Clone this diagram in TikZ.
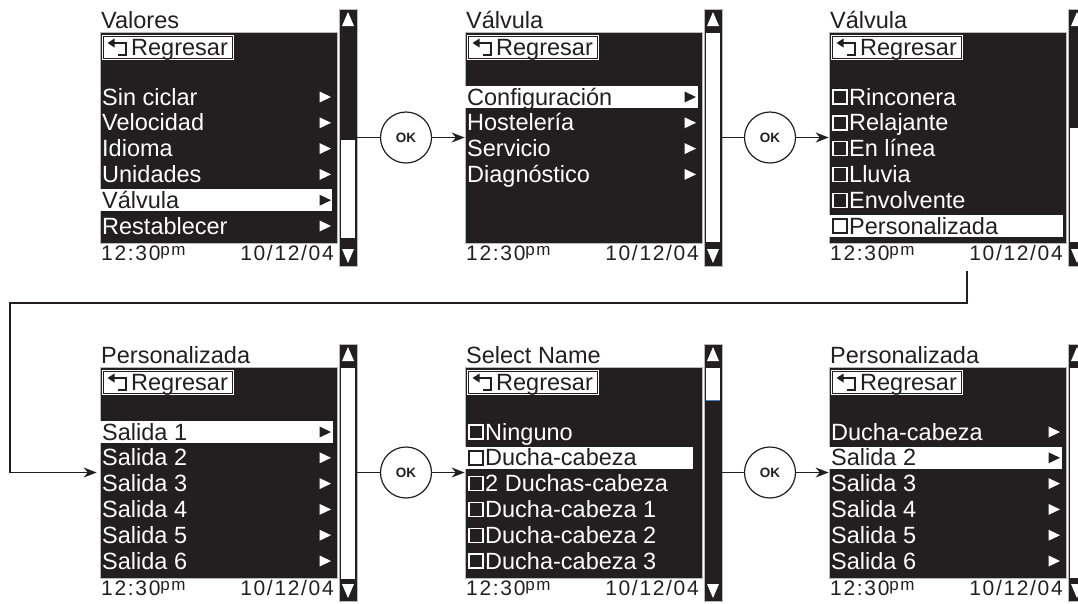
\documentclass[tikz,border=0pt]{standalone}
\usepackage{fontspec}
\setmainfont{Liberation Sans}
\newfontfamily\footfont[LetterSpace=8]{Liberation Sans}
\usetikzlibrary{arrows.meta}
\definecolor{lcd}{HTML}{231F20}
\definecolor{thumbblue}{HTML}{4A7FC0}
\tikzset{
 txt/.style={anchor=base west, inner sep=0pt, font=\fontsize{23.5}{28}\selectfont},
 wtxt/.style={txt, text=white},
 btxt/.style={txt, text=lcd},
 foot/.style={anchor=base west, inner sep=0pt, text=lcd, font=\footfont\fontsize{21}{25}\selectfont},
 panel/.style={rectangle, fill=lcd, draw=gray!55, line width=0.7pt, minimum width=237pt, minimum height=211pt, inner sep=0pt},
 scrollbar/.style={rectangle, fill=lcd, draw=gray!55, line width=0.6pt, minimum width=18pt, minimum height=257pt, inner sep=0pt},
 backbox/.style={rectangle, fill=white, minimum width=132pt, minimum height=25pt, inner sep=0pt},
 okc/.style={circle, draw=lcd, line width=1.2pt, minimum size=51pt, inner sep=0pt, fill=white, font=\bfseries\fontsize{13.5}{13.5}\selectfont, text=lcd},
 conn/.style={draw=lcd, line width=1.6pt},
 arr/.style={conn, -{Stealth[length=13pt,width=10pt]}},
}
% #1 id, #2 X, #3 Y, #4 title, #5 thumb top, #6 thumb bottom
\newcommand\lcdscreen[6]{%
 \node[panel] (p#1) at (#2+118.5,#3+105.5) {};
 \node[btxt] (t#1) at (#2+1,#3-4) {#4};
 \node[backbox] (b#1) at (#2+68,#3+15.5) {};
 \draw[lcd, line width=0.7pt] ([shift={(1.5pt,-1.5pt)}]b#1.north west) rectangle ([shift={(-1.5pt,1.5pt)}]b#1.south east);
 \fill[lcd] (#2+7.5,#3+11) -- (#2+14.5,#3+6.5) -- (#2+14.5,#3+15.5) -- cycle;
 \draw[lcd, line width=1.3pt] (#2+13,#3+11) -- (#2+26,#3+11) -- (#2+26,#3+23) -- (#2+18,#3+23);
 \node[btxt] (r#1) at (#2+31,#3+23) {Regresar};
 \node[foot] (fa#1) at (#2+1,#3+228) {12:30\raisebox{5pt}{\fontsize{17}{17}\selectfont pm}};
 \node[foot, anchor=base east] (fb#1) at (#2+234,#3+228) {10/12/04};
 \node[scrollbar] (sb#1) at (#2+248,#3+105.5) {};
 \fill[white] (#2+241,#3+#5) rectangle (#2+255,#3+#6);
 \fill[white] (#2+248,#3-20) -- (#2+242,#3-6) -- (#2+254,#3-6) -- cycle;
 \fill[white] (#2+248,#3+231) -- (#2+242,#3+217) -- (#2+254,#3+217) -- cycle;
}
% menu item with arrow: #1 name, #2 X, #3 Y, #4 row, #5 text
\newcommand\mitem[5]{%
 \node[wtxt] (#1) at (#2+2,#3+73+25.8*#4) {#5};
 \fill[white] (#2+231,#3+65+25.8*#4) -- ++(-11.5,-5.5) -- ++(0,11) -- cycle;
}
% highlighted item with arrow: #6 bar width
\newcommand\hitem[6]{%
 \fill[white] (#2,#3+54+25.8*#4) rectangle (#2+#6,#3+76+25.8*#4);
 \node[btxt] (#1) at (#2+2,#3+73+25.8*#4) {#5};
 \fill[lcd] (#2+231,#3+65+25.8*#4) -- ++(-11.5,-5.5) -- ++(0,11) -- cycle;
}
% checkbox item
\newcommand\citem[5]{%
 \draw[white, line width=1.4pt] (#2+4,#3+58+25.8*#4) rectangle ++(14,14);
 \node[wtxt] (#1) at (#2+20,#3+73+25.8*#4) {#5};
}
\newcommand\chitem[6]{%
 \fill[white] (#2,#3+54+25.8*#4) rectangle (#2+#6,#3+76+25.8*#4);
 \draw[lcd, line width=1.4pt] (#2+4,#3+58+25.8*#4) rectangle ++(14,14);
 \node[btxt] (#1) at (#2+20,#3+73+25.8*#4) {#5};
}
\begin{document}
\begin{tikzpicture}[x=1pt,y=-1pt]
\useasboundingbox (0,0) rectangle (1078,603);
\clip (0,0) rectangle (1078,603);
% ---- screen 1
\lcdscreen{1}{100}{32}{Valores}{108}{206}
\mitem{a1}{100}{32}{0}{Sin ciclar}
\mitem{a2}{100}{32}{1}{Velocidad}
\mitem{a3}{100}{32}{2}{Idioma}
\mitem{a4}{100}{32}{3}{Unidades}
\hitem{a5}{100}{32}{4}{Válvula}{232}
\mitem{a6}{100}{32}{5}{Restablecer}
% ---- screen 2
\lcdscreen{2}{465}{32}{Válvula}{1}{210}
\hitem{b1}{465}{32}{0}{Configuración}{233}
\mitem{b2}{465}{32}{1}{Hostelería}
\mitem{b3}{465}{32}{2}{Servicio}
\mitem{b4}{465}{32}{3}{Diagnóstico}
% ---- screen 3
\lcdscreen{3}{829}{32}{Válvula}{96}{210}
\citem{c1}{829}{32}{0}{Rinconera}
\citem{c2}{829}{32}{1}{Relajante}
\citem{c3}{829}{32}{2}{En línea}
\citem{c4}{829}{32}{3}{Lluvia}
\citem{c5}{829}{32}{4}{Envolvente}
\chitem{c6}{829}{32}{5}{Personalizada}{234}
% ---- screen 4
\lcdscreen{4}{100}{367}{Personalizada}{1}{212}
\hitem{d1}{100}{367}{0}{Salida 1}{233}
\mitem{d2}{100}{367}{1}{Salida 2}
\mitem{d3}{100}{367}{2}{Salida 3}
\mitem{d4}{100}{367}{3}{Salida 4}
\mitem{d5}{100}{367}{4}{Salida 5}
\mitem{d6}{100}{367}{5}{Salida 6}
% ---- screen 5
\lcdscreen{5}{465}{367}{Select Name}{1}{33}
\draw[thumbblue, line width=1pt] (706,400) -- (720,400);
\citem{e1}{465}{367}{0}{Ninguno}
\chitem{e2}{465}{367}{1}{Ducha-cabeza}{228}
\citem{e3}{465}{367}{2}{2 Duchas-cabeza}
\citem{e4}{465}{367}{3}{Ducha-cabeza 1}
\citem{e5}{465}{367}{4}{Ducha-cabeza 2}
\citem{e6}{465}{367}{5}{Ducha-cabeza 3}
% ---- screen 6
\lcdscreen{6}{829}{367}{Personalizada}{1}{211}
\mitem{f1}{829}{367}{0}{Ducha-cabeza}
\hitem{f2}{829}{367}{1}{Salida 2}{233}
\mitem{f3}{829}{367}{2}{Salida 3}
\mitem{f4}{829}{367}{3}{Salida 4}
\mitem{f5}{829}{367}{4}{Salida 5}
\mitem{f6}{829}{367}{5}{Salida 6}
% ---- OK buttons and connectors
\node[okc] (ok1) at (406,137.5) {OK};
\node[okc] (ok2) at (770,137.5) {OK};
\node[okc] (ok3) at (406,472.5) {OK};
\node[okc] (ok4) at (770,472.5) {OK};
\draw[conn] (sb1) -- (ok1);
\draw[arr] (ok1) -- (p2);
\draw[conn] (sb2) -- (ok2);
\draw[arr] (ok2) -- (p3);
\draw[conn] (sb4) -- (ok3);
\draw[arr] (ok3) -- (p5);
\draw[conn] (sb5) -- (ok4);
\draw[arr] (ok4) -- (p6);
\coordinate (k0) at (967,271);
\coordinate (k1) at (10,303);
\draw[arr, shorten >=3pt] (k0) |- (k1) |- (p4.west);
\end{tikzpicture}
\end{document}
